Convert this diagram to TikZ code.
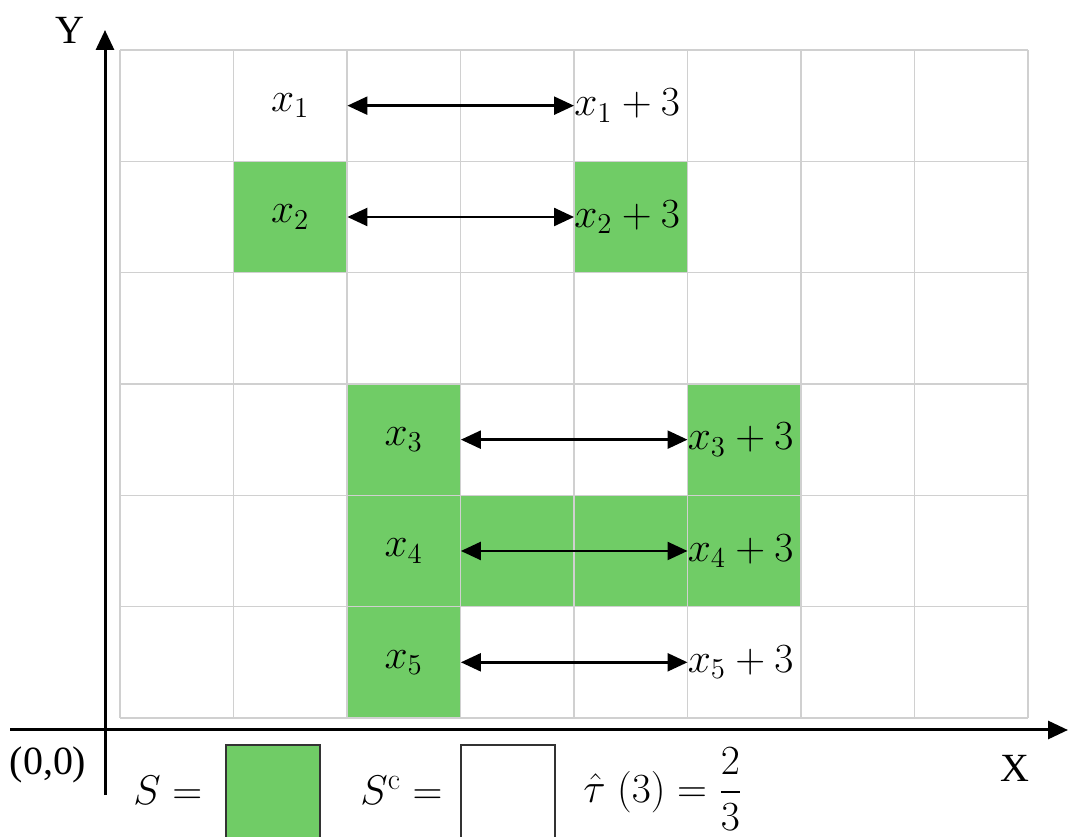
\documentclass[tikz,border=0pt]{standalone}
\usepackage{amsmath}
\usepackage{fontspec}
\newfontfamily\axisfont{Liberation Serif}
\usetikzlibrary{arrows.meta,calc,positioning}
\definecolor{setgreen}{RGB}{112,204,102}
\definecolor{gridgray}{RGB}{208,208,208}

\begin{document}
\begin{tikzpicture}[x=.5pt,y=.5pt,
 gridline/.style={gridgray,line width=.7pt},
 axis/.style={line width=1.5pt,-{Triangle[length=10pt,width=9pt]}},
 pair/.style={line width=1.2pt,{Triangle[length=10pt,width=9pt]}-{Triangle[length=10pt,width=9pt]}},
 lab/.style={font=\fontsize{21.5}{26}\selectfont,inner sep=0pt},
 axislab/.style={font=\axisfont\fontsize{20}{24}\selectfont,inner sep=0pt},
 swatch/.style={draw=black!80,line width=.8pt,minimum width=47pt,minimum height=60pt,inner sep=0pt}]
 \useasboundingbox(0,0)rectangle(1077,836);
 % 8 x 6 cells of 113.5 x 111.33 units, grid from (120,118) to (1028,786)
 \foreach \c/\r in {1/1,4/1,2/3,5/3,2/4,3/4,4/4,5/4,2/5}
  \fill[setgreen]({120+113.5*\c},{786-111.33*(\r+1)})rectangle++(113.5,111.33);
 \foreach \i in {0,...,8}
  \draw[gridline]({120+113.5*\i},118)--({120+113.5*\i},786);
 \foreach \j in {0,...,6}
  \draw[gridline](120,{118+111.33*\j})--(1028,{118+111.33*\j});
 % axes
 \coordinate(xstart)at(10,106);
 \coordinate(xend)at(1068,106);
 \coordinate(ystart)at(105,41);
 \coordinate(yend)at(105,806);
 \draw[axis](xstart)--(xend);
 \draw[axis](ystart)--(yend);
 \node[axislab](ylab)at(70,806){Y};
 \node[axislab](xlab)at(1015,68){X};
 \node[axislab](orig)at(48,71){(0,0)};
 % each x_n and its shift by 3 cells
 \foreach \n/\c/\r in {1/1/0,2/1/1,3/2/3,4/2/4,5/2/5}{
  \node[lab,minimum width=56.75pt](x\n)at({120+113.5*(\c+.5)},{786-111.33*(\r+.5)}){$x_\n$};
  \node[lab,anchor=west](shift\n)at({120+113.5*(\c+3)},{786-111.33*(\r+.5)}){$x_\n+3$};
  \draw[pair](x\n.east)--(x\n.east-|shift\n.west);
 }
 % legend
 \node[lab,anchor=west](sset)at(133,46){$S=$};
 \node[swatch,fill=setgreen](sbox)at(273,31){};
 \node[lab,anchor=west](scset)at(360,46){$S^{\mathrm{c}}=$};
 \node[swatch,fill=white](scbox)at(508,31){};
 \node[lab,anchor=west](tau)at(583,47){$\hat{\tau}\;(3)=\dfrac{2}{3}$};
\end{tikzpicture}
\end{document}
